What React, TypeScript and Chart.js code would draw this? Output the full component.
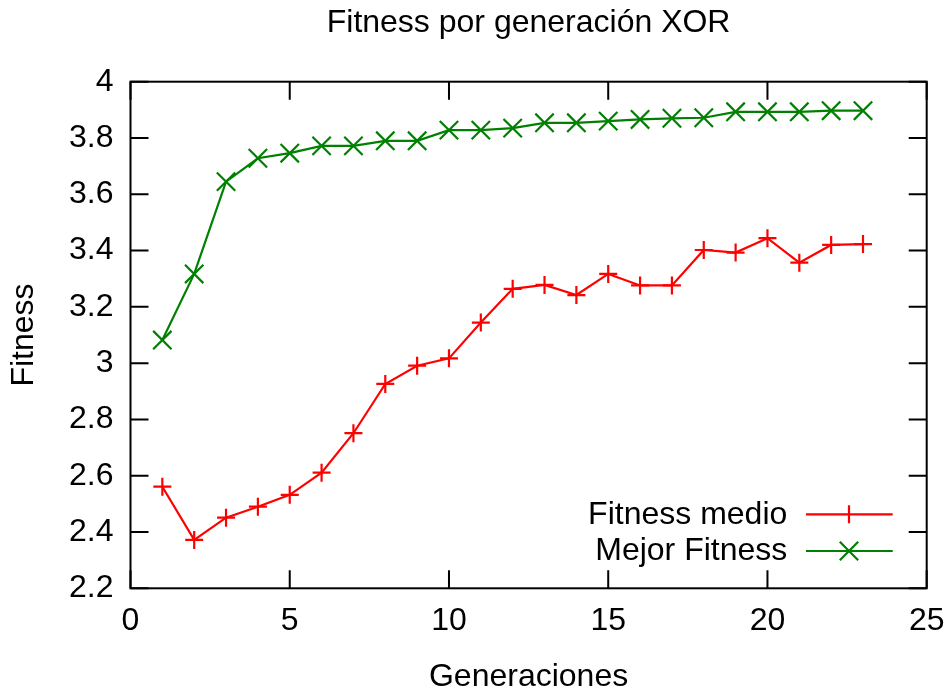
import React, { useEffect, useRef } from "react";
import { Chart, registerables } from "chart.js";

Chart.register(...registerables);

const generations = [1, 2, 3, 4, 5, 6, 7, 8, 9, 10, 11, 12, 13, 14, 15, 16, 17, 18, 19, 20, 21, 22, 23];
const fitnessMedio = [2.561, 2.372, 2.451, 2.49, 2.532, 2.611, 2.751, 2.926, 2.991, 3.017, 3.144, 3.264, 3.278, 3.242, 3.317, 3.276, 3.276, 3.402, 3.393, 3.444, 3.357, 3.42, 3.423];
const mejorFitness = [3.082, 3.317, 3.645, 3.728, 3.746, 3.772, 3.772, 3.79, 3.79, 3.828, 3.828, 3.835, 3.854, 3.854, 3.86, 3.866, 3.87, 3.872, 3.893, 3.893, 3.893, 3.897, 3.897];
const seriesLabels = ["Fitness medio", "Mejor Fitness"];
const xTicks = { min: 0, max: 25, step: 5 };
const yTicks = { min: 2.2, max: 4, step: 0.2 };

const FONT = "'Liberation Sans', Arial, sans-serif";
const RED = "#ff0000";
const GREEN = "#008000";

const framePlugin = {
  id: "gnuFrame",
  beforeDatasetsDraw(chart: any) {
    const { ctx, chartArea } = chart;
    const { left, right, top, bottom } = chartArea;
    const tl = 18;
    ctx.save();
    ctx.strokeStyle = "#000";
    ctx.lineWidth = 2;
    ctx.beginPath();
    const xs = chart.scales.x;
    xs.ticks.forEach((t: any) => {
      const px = xs.getPixelForValue(t.value);
      ctx.moveTo(px, bottom);
      ctx.lineTo(px, bottom - tl);
      ctx.moveTo(px, top);
      ctx.lineTo(px, top + tl);
    });
    const ys = chart.scales.y;
    ys.ticks.forEach((t: any) => {
      const py = ys.getPixelForValue(t.value);
      ctx.moveTo(left, py);
      ctx.lineTo(left + tl, py);
      ctx.moveTo(right, py);
      ctx.lineTo(right - tl, py);
    });
    ctx.stroke();
    ctx.strokeRect(left, top, right - left, bottom - top);
    ctx.restore();
  },
  afterDatasetsDraw(chart: any) {
    const { ctx, chartArea } = chart;
    const { right, bottom } = chartArea;
    const items = [
      { label: seriesLabels[0], color: RED, style: "plus", lineY: bottom - 74, textY: bottom - 64.3 },
      { label: seriesLabels[1], color: GREEN, style: "x", lineY: bottom - 37.3, textY: bottom - 28.8 },
    ];
    ctx.save();
    ctx.font = `32px ${FONT}`;
    ctx.textAlign = "right";
    ctx.textBaseline = "alphabetic";
    items.forEach((it) => {
      ctx.fillStyle = "#000";
      ctx.fillText(it.label, right - 139.4, it.textY);
      ctx.strokeStyle = it.color;
      ctx.lineWidth = 2.2;
      ctx.beginPath();
      ctx.moveTo(right - 120.7, it.lineY);
      ctx.lineTo(right - 34, it.lineY);
      const cx = right - 77.7;
      const cy = it.lineY;
      if (it.style === "plus") {
        ctx.moveTo(cx, cy - 9);
        ctx.lineTo(cx, cy + 9);
      } else {
        ctx.moveTo(cx - 9.2, cy - 9.2);
        ctx.lineTo(cx + 9.2, cy + 9.2);
        ctx.moveTo(cx - 9.2, cy + 9.2);
        ctx.lineTo(cx + 9.2, cy - 9.2);
      }
      ctx.stroke();
    });
    ctx.restore();
  },
};

export default function App() {
  const ref = useRef<HTMLCanvasElement>(null);
  useEffect(() => {
    if (!ref.current) return;
    const chart = new Chart(ref.current, {
      type: "line",
      data: {
        datasets: [
          {
            label: seriesLabels[0],
            data: generations.map((g, i) => ({ x: g, y: fitnessMedio[i] })),
            borderColor: RED,
            backgroundColor: RED,
            borderWidth: 2.2,
            pointStyle: "cross",
            pointRadius: 9,
            pointBorderWidth: 2.2,
            pointBorderColor: RED,
            tension: 0,
            clip: false as any,
          },
          {
            label: seriesLabels[1],
            data: generations.map((g, i) => ({ x: g, y: mejorFitness[i] })),
            borderColor: GREEN,
            backgroundColor: GREEN,
            borderWidth: 2.2,
            pointStyle: "crossRot",
            pointRadius: 13,
            pointBorderWidth: 2.2,
            pointBorderColor: GREEN,
            tension: 0,
            clip: false as any,
          },
        ],
      },
      plugins: [framePlugin],
      options: {
        responsive: false,
        animation: false,
        layout: { padding: { left: 0, right: 21.3, top: 0, bottom: 0 } },
        plugins: {
          legend: { display: false },
          tooltip: { enabled: false },
          title: {
            display: true,
            text: "Fitness por generación XOR",
            color: "#000",
            fullSize: false,
            font: { family: FONT, size: 32, weight: "normal" as any },
            padding: { top: 4, bottom: 39.3 },
          },
        },
        scales: {
          x: {
            type: "linear",
            min: xTicks.min,
            max: xTicks.max,
            ticks: {
              stepSize: xTicks.step,
              padding: 14,
              color: "#000",
              font: { family: FONT, size: 32 },
            },
            grid: { display: false, drawTicks: false },
            border: { display: false },
            title: {
              display: true,
              text: "Generaciones",
              color: "#000",
              font: { family: FONT, size: 32 },
              padding: { top: 0, bottom: -1 },
            },
            afterFit: (s: any) => {
              s.height = 106.7;
              s.paddingLeft = 0;
              s.paddingRight = 0;
            },
          },
          y: {
            type: "linear",
            min: yTicks.min,
            max: yTicks.max,
            ticks: {
              stepSize: yTicks.step,
              padding: 17,
              color: "#000",
              font: { family: FONT, size: 32 },
              callback: (v: any) => String(Number(Number(v).toFixed(1))),
            },
            grid: { display: false, drawTicks: false },
            border: { display: false },
            title: {
              display: true,
              text: "Fitness",
              color: "#000",
              font: { family: FONT, size: 32 },
              padding: { top: 5, bottom: 0 },
            },
            afterFit: (s: any) => {
              s.width = 130.5;
              s.paddingTop = 0;
              s.paddingBottom = 0;
            },
          },
        },
      },
    });
    return () => chart.destroy();
  }, []);
  return (
    <div style={{ position: "fixed", left: 0, top: 0, width: 948, height: 695, background: "#fff" }}>
      <canvas ref={ref} width={948} height={695} />
    </div>
  );
}
